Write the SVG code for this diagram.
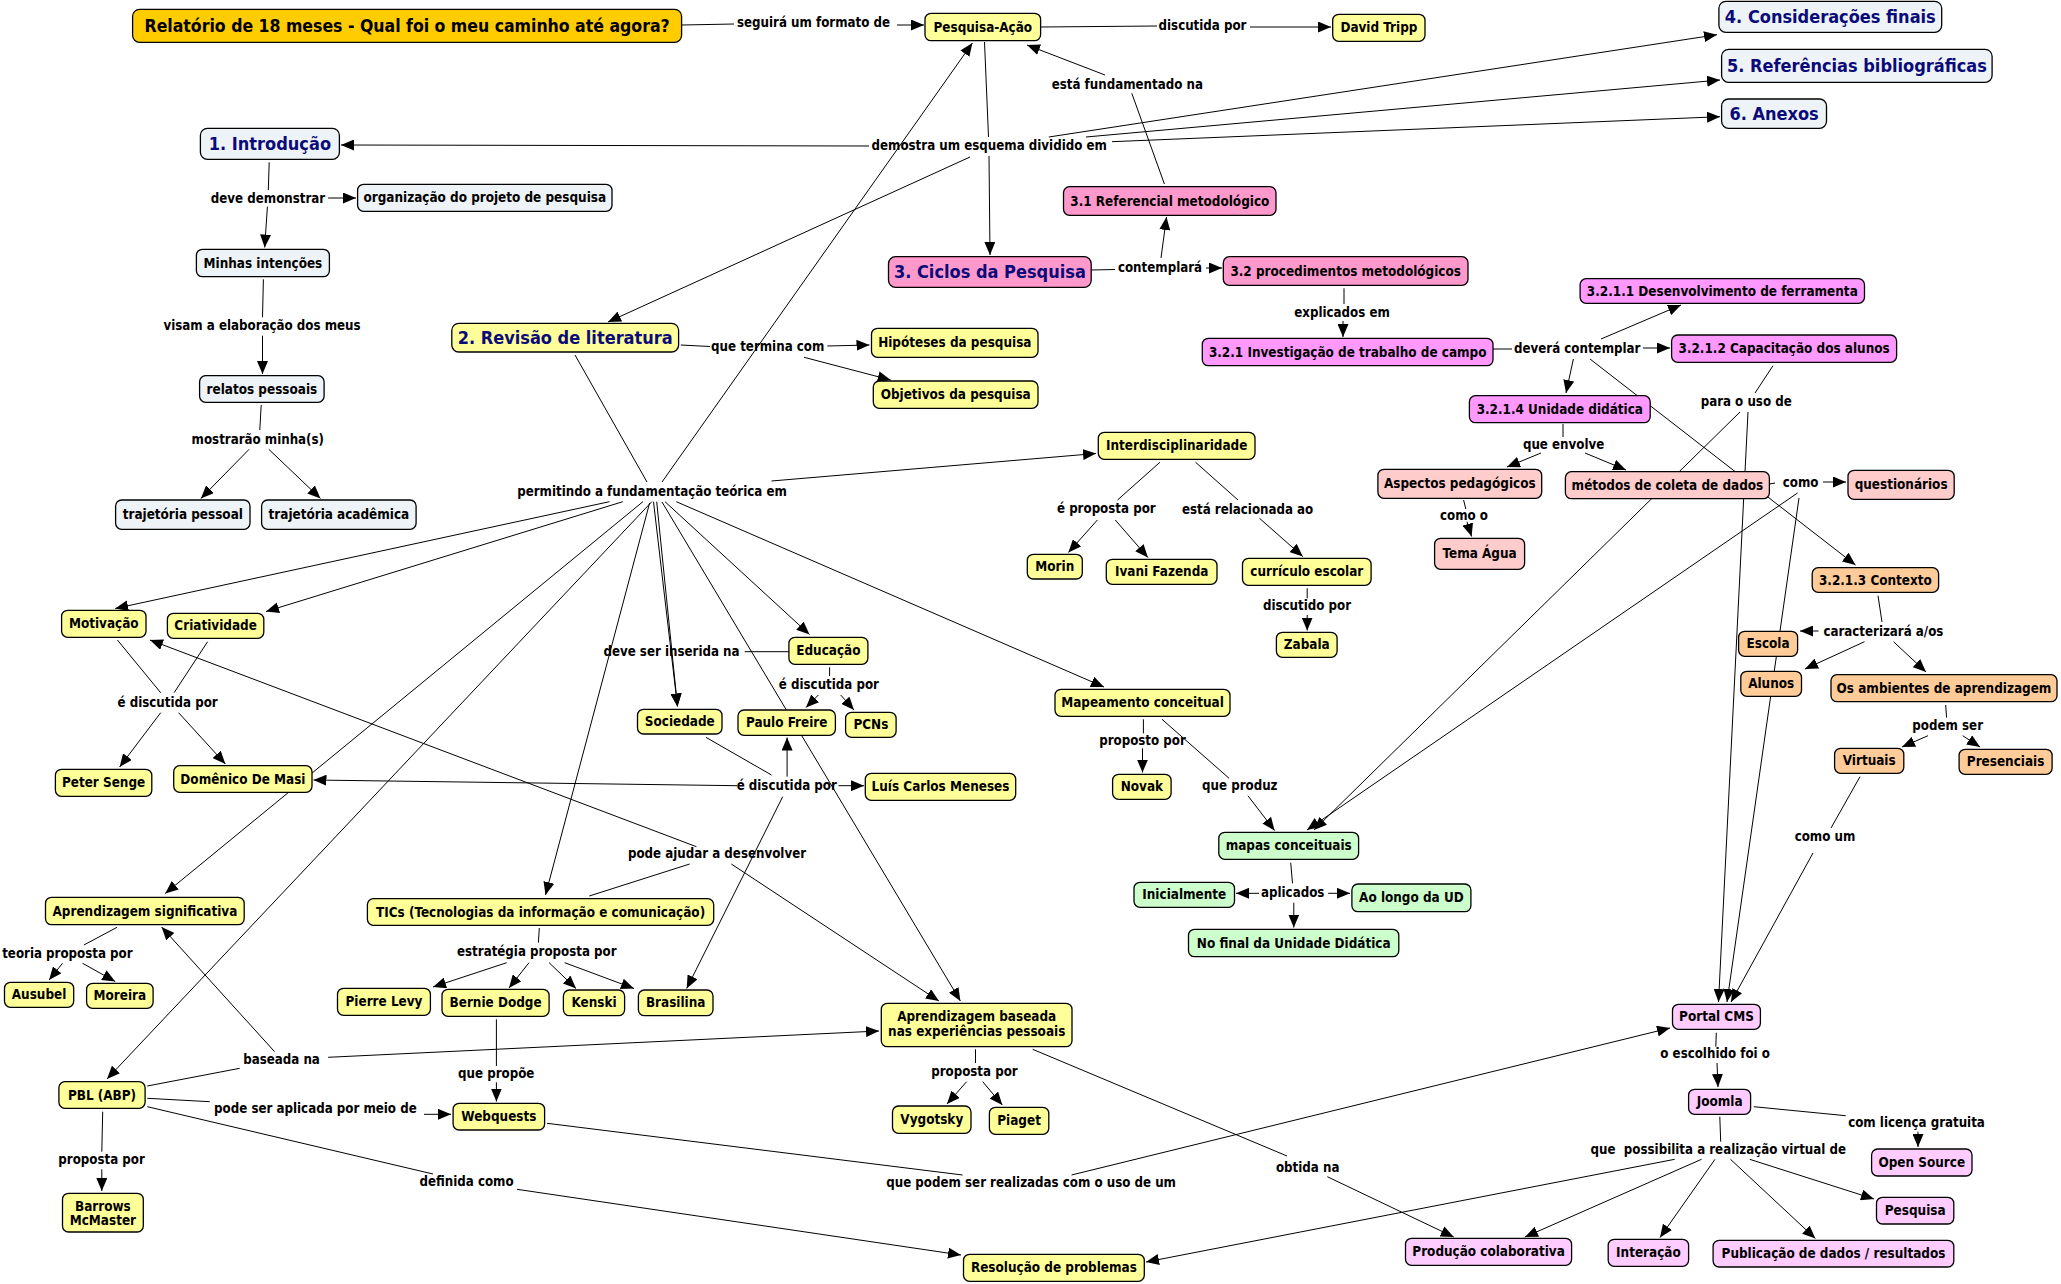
<svg xmlns="http://www.w3.org/2000/svg" width="2061" height="1284" viewBox="0 0 2061 1284">
<defs>
<marker id="a" markerWidth="13" markerHeight="11" refX="13" refY="5.5" orient="auto" markerUnits="userSpaceOnUse"><path d="M0,0 L13,5.5 L0,11 z" fill="#000"/></marker>
<style>
rect{stroke:#000;stroke-width:1.3}
.gold{fill:#FFCC00}.gr{fill:#EDF3F6}.y{fill:#FFFF99}.pk{fill:#FF99CC}.vi{fill:#FF99FF}.lp{fill:#FFCCCC}.or{fill:#FFCC99}.gn{fill:#CCFFCC}.lv{fill:#FFCCFF}
text{font-family:"DejaVu Sans Condensed","DejaVu Sans",sans-serif;font-weight:bold;font-size:13.4px;text-anchor:middle;fill:#000}
.h{font-size:18px;fill:#0A0A78}
.tt{font-size:17.5px}
.l{font-size:13.2px}
#c line{stroke:#000;stroke-width:1;fill:none}
#c .ar{marker-end:url(#a)}
</style>
</defs>
<rect x="0" y="0" width="2061" height="1284" fill="#fff" style="stroke:none"/>
<g id="c">
<line x1="682" y1="25" x2="734" y2="24"/>
<line class="ar" x1="897" y1="25" x2="924" y2="25"/>
<line x1="1041" y1="27" x2="1157" y2="26"/>
<line class="ar" x1="1250" y1="27" x2="1331" y2="27"/>
<line x1="984.5" y1="42" x2="988.5" y2="137"/>
<line class="ar" x1="989" y1="156" x2="990" y2="255"/>
<line class="ar" x1="869" y1="146" x2="341" y2="145"/>
<line class="ar" x1="970" y1="157" x2="608" y2="322"/>
<line class="ar" x1="1048.8" y1="137" x2="1717" y2="34.7"/>
<line class="ar" x1="1086" y1="137" x2="1720" y2="80"/>
<line class="ar" x1="1112" y1="141.7" x2="1720" y2="116.7"/>
<line x1="1164.4" y1="184" x2="1131.8" y2="93.3"/>
<line class="ar" x1="1105" y1="75" x2="1027" y2="45"/>
<line x1="1091" y1="270" x2="1115" y2="269.5"/>
<line class="ar" x1="1161" y1="258" x2="1166.5" y2="217"/>
<line class="ar" x1="1206" y1="268" x2="1222" y2="268"/>
<line x1="1344" y1="288.3" x2="1344" y2="304"/>
<line class="ar" x1="1343" y1="321" x2="1343" y2="337"/>
<line x1="1493" y1="349" x2="1512" y2="349"/>
<line class="ar" x1="1601" y1="339" x2="1681" y2="305"/>
<line class="ar" x1="1643" y1="348" x2="1670" y2="348"/>
<line class="ar" x1="1573.4" y1="359" x2="1566" y2="393"/>
<line class="ar" x1="1590" y1="359" x2="1855.5" y2="565"/>
<line x1="1773" y1="365.7" x2="1755" y2="393"/>
<line class="ar" x1="1748" y1="412" x2="1718.5" y2="1002"/>
<line class="ar" x1="1740" y1="412" x2="1314" y2="830"/>
<line x1="1563" y1="424" x2="1563" y2="437"/>
<line class="ar" x1="1541" y1="453" x2="1507" y2="467"/>
<line class="ar" x1="1585" y1="453" x2="1626" y2="470"/>
<line x1="1463.6" y1="500" x2="1465.8" y2="509"/>
<line class="ar" x1="1467" y1="521.7" x2="1471.6" y2="536.5"/>
<line x1="1769.4" y1="484" x2="1775" y2="483"/>
<line class="ar" x1="1823" y1="482" x2="1846" y2="482"/>
<line class="ar" x1="1797.5" y1="493" x2="1307" y2="830"/>
<line class="ar" x1="1799" y1="498" x2="1727" y2="1002"/>
<line x1="1878" y1="595.7" x2="1882" y2="622"/>
<line class="ar" x1="1818.5" y1="631" x2="1800" y2="631"/>
<line class="ar" x1="1864.5" y1="641.7" x2="1805" y2="669"/>
<line class="ar" x1="1893.5" y1="641.7" x2="1926" y2="672"/>
<line x1="1945.7" y1="705" x2="1946.6" y2="717.7"/>
<line class="ar" x1="1928" y1="735.7" x2="1902" y2="747"/>
<line class="ar" x1="1962.7" y1="735.7" x2="1980" y2="747"/>
<line x1="1860" y1="776.7" x2="1831" y2="828"/>
<line class="ar" x1="1813" y1="853" x2="1731" y2="1002"/>
<line x1="1716.3" y1="1032.7" x2="1715.8" y2="1046.7"/>
<line class="ar" x1="1717" y1="1063" x2="1718" y2="1087"/>
<line x1="1753.8" y1="1106.7" x2="1845.7" y2="1115.7"/>
<line class="ar" x1="1918" y1="1131.7" x2="1918" y2="1147"/>
<line x1="1719.8" y1="1116.7" x2="1720.7" y2="1141.7"/>
<line class="ar" x1="1674.7" y1="1159.3" x2="1146" y2="1262"/>
<line class="ar" x1="1701.5" y1="1159.3" x2="1525" y2="1237"/>
<line class="ar" x1="1715" y1="1159.3" x2="1660" y2="1237.5"/>
<line class="ar" x1="1730.5" y1="1159.3" x2="1815.4" y2="1238.5"/>
<line class="ar" x1="1749.7" y1="1159.3" x2="1874" y2="1199"/>
<line x1="547" y1="1123.3" x2="962.6" y2="1175"/>
<line class="ar" x1="1071.5" y1="1175" x2="1670" y2="1028"/>
<line x1="1032.7" y1="1049.3" x2="1287" y2="1156"/>
<line class="ar" x1="1327.3" y1="1176.7" x2="1453.75" y2="1237"/>
<line x1="975.5" y1="1049.3" x2="975.5" y2="1063"/>
<line class="ar" x1="966.6" y1="1081.7" x2="947" y2="1104"/>
<line class="ar" x1="982.7" y1="1081.7" x2="1002.3" y2="1105"/>
<line x1="147.3" y1="1106.7" x2="433" y2="1174"/>
<line class="ar" x1="517" y1="1189.3" x2="961" y2="1255"/>
<line x1="147.3" y1="1098.3" x2="209.8" y2="1101.7"/>
<line class="ar" x1="424" y1="1114.3" x2="451" y2="1114.3"/>
<line x1="102.7" y1="1111.7" x2="101.8" y2="1151.7"/>
<line class="ar" x1="101.8" y1="1169.3" x2="101.8" y2="1191"/>
<line x1="147.3" y1="1086" x2="239.7" y2="1068.3"/>
<line class="ar" x1="274.6" y1="1051.7" x2="161.6" y2="927"/>
<line class="ar" x1="328.1" y1="1057.3" x2="879" y2="1031"/>
<line x1="496.4" y1="1019.3" x2="496.4" y2="1066"/>
<line class="ar" x1="496.4" y1="1082.3" x2="496.4" y2="1101.5"/>
<line x1="539.3" y1="928" x2="538.4" y2="942.7"/>
<line class="ar" x1="506.7" y1="962.7" x2="433" y2="987"/>
<line class="ar" x1="529" y1="962.7" x2="509" y2="988"/>
<line class="ar" x1="549.1" y1="962.7" x2="576" y2="988.5"/>
<line class="ar" x1="564.7" y1="962.7" x2="634" y2="988.5"/>
<line x1="117" y1="927.3" x2="83.9" y2="945"/>
<line class="ar" x1="62.5" y1="963.3" x2="49.1" y2="980"/>
<line class="ar" x1="82.6" y1="963.3" x2="115.2" y2="981.5"/>
<line x1="575" y1="355" x2="647" y2="482"/>
<line class="ar" x1="662" y1="482" x2="972.4" y2="43"/>
<line class="ar" x1="771.5" y1="481" x2="1096" y2="453.5"/>
<line class="ar" x1="609.4" y1="501.7" x2="115.2" y2="608.5"/>
<line class="ar" x1="622.8" y1="501.7" x2="266" y2="611.5"/>
<line class="ar" x1="642.9" y1="501.7" x2="165.2" y2="893.5"/>
<line class="ar" x1="651.8" y1="501.7" x2="107" y2="1079"/>
<line class="ar" x1="649.6" y1="503" x2="545.5" y2="895"/>
<line class="ar" x1="656.7" y1="501.7" x2="677.5" y2="706.5"/>
<line class="ar" x1="653.5" y1="501.7" x2="677.5" y2="706.5"/>
<line class="ar" x1="665" y1="501.7" x2="809.5" y2="634.5"/>
<line class="ar" x1="676.3" y1="501.7" x2="1104" y2="687"/>
<line class="ar" x1="662" y1="502" x2="960.4" y2="1001"/>
<line x1="788.9" y1="651.7" x2="744.7" y2="651.7"/>
<line x1="829.6" y1="667.3" x2="829.6" y2="676"/>
<line class="ar" x1="818.4" y1="695" x2="806" y2="707.5"/>
<line class="ar" x1="840.7" y1="695" x2="854" y2="710"/>
<line x1="705.9" y1="737.3" x2="771.5" y2="775"/>
<line class="ar" x1="787.1" y1="776.7" x2="787.1" y2="737.5"/>
<line class="ar" x1="838.5" y1="785.7" x2="864" y2="785.7"/>
<line class="ar" x1="737" y1="785.7" x2="313.5" y2="780"/>
<line class="ar" x1="782.7" y1="796.7" x2="686.7" y2="988.5"/>
<line x1="117.4" y1="640" x2="160.7" y2="692.7"/>
<line x1="207.6" y1="641.7" x2="174.1" y2="692.7"/>
<line class="ar" x1="160.7" y1="712.7" x2="119.6" y2="767"/>
<line class="ar" x1="178.6" y1="712.7" x2="225.4" y2="764"/>
<line x1="589.3" y1="896" x2="689.7" y2="864"/>
<line class="ar" x1="696.4" y1="846.7" x2="150" y2="640"/>
<line class="ar" x1="731.3" y1="864" x2="938.9" y2="1001"/>
<line x1="1159.9" y1="462.3" x2="1117.5" y2="500"/>
<line class="ar" x1="1097.4" y1="520" x2="1068.4" y2="552.5"/>
<line class="ar" x1="1115.3" y1="520" x2="1147.9" y2="557.5"/>
<line x1="1195.6" y1="462.3" x2="1238" y2="500"/>
<line class="ar" x1="1259.5" y1="518.3" x2="1302.8" y2="556.5"/>
<line x1="1307.2" y1="588.3" x2="1307.2" y2="598.3"/>
<line class="ar" x1="1307.2" y1="615" x2="1307.2" y2="630.5"/>
<line x1="1143.4" y1="719.3" x2="1143.4" y2="733.3"/>
<line class="ar" x1="1142.5" y1="748.3" x2="1142.5" y2="772.5"/>
<line x1="1162" y1="719.3" x2="1229.1" y2="778.3"/>
<line class="ar" x1="1247.9" y1="795.7" x2="1274.6" y2="830.5"/>
<line x1="1290.7" y1="862.7" x2="1292.5" y2="883.3"/>
<line class="ar" x1="1259" y1="893.3" x2="1236" y2="893.3"/>
<line class="ar" x1="1328.2" y1="893.3" x2="1350" y2="893.3"/>
<line class="ar" x1="1293.8" y1="902.7" x2="1293.8" y2="927.5"/>
<line x1="680.8" y1="345" x2="710" y2="346.5"/>
<line class="ar" x1="827.3" y1="346" x2="869.5" y2="345"/>
<line class="ar" x1="804.1" y1="357.3" x2="890.7" y2="380"/>
<line x1="269.2" y1="162.3" x2="268.3" y2="190"/>
<line class="ar" x1="328.1" y1="198" x2="356" y2="198"/>
<line class="ar" x1="267.4" y1="206.7" x2="264.7" y2="247.5"/>
<line x1="263.4" y1="279.3" x2="262.5" y2="317.3"/>
<line class="ar" x1="262.5" y1="335.7" x2="262.5" y2="374"/>
<line x1="261.2" y1="405" x2="259.8" y2="430"/>
<line class="ar" x1="249.1" y1="449.3" x2="200.9" y2="498.5"/>
<line class="ar" x1="268.8" y1="449.3" x2="320.5" y2="498.5"/>
</g>
<g id="labels">
<text class="l" x="813.5" y="27.2">seguirá um formato de</text>
<text class="l" x="1202.5" y="29.5">discutida por</text>
<text class="l" x="1127.3" y="89.2">está fundamentado na</text>
<text class="l" x="989.2" y="150.2">demostra um esquema dividido em</text>
<text class="l" x="268" y="202.5">deve demonstrar</text>
<text class="l" x="262" y="329.5">visam a elaboração dos meus</text>
<text class="l" x="257.8" y="443.8">mostrarão minha(s)</text>
<text class="l" x="767.7" y="351.2">que termina com</text>
<text class="l" x="1160" y="272.2">contemplará</text>
<text class="l" x="1342" y="317.2">explicados em</text>
<text class="l" x="1577.2" y="352.8">deverá contemplar</text>
<text class="l" x="1746.2" y="405.5">para o uso de</text>
<text class="l" x="1563.6" y="448.5">que envolve</text>
<text class="l" x="1800.6" y="486.5">como</text>
<text class="l" x="1464" y="519.5">como o</text>
<text class="l" x="1883.4" y="636.2">caracterizará a/os</text>
<text class="l" x="1947.7" y="729.5">podem ser</text>
<text class="l" x="1825" y="841.2">como um</text>
<text class="l" x="652" y="495.5">permitindo a fundamentação teórica em</text>
<text class="l" x="1106.3" y="513.2">é proposta por</text>
<text class="l" x="1247.6" y="514.2">está relacionada ao</text>
<text class="l" x="1307" y="610.2">discutido por</text>
<text class="l" x="671.5" y="656.2">deve ser inserida na</text>
<text class="l" x="828.9" y="688.8">é discutida por</text>
<text class="l" x="167.6" y="707.2">é discutida por</text>
<text class="l" x="786.7" y="790.2">é discutida por</text>
<text class="l" x="1142.5" y="745.2">proposto por</text>
<text class="l" x="1239.8" y="789.5">que produz</text>
<text class="l" x="717" y="857.8">pode ajudar a desenvolver</text>
<text class="l" x="1292.7" y="896.5">aplicados</text>
<text class="l" x="67.4" y="957.5">teoria proposta por</text>
<text class="l" x="536.8" y="956.2">estratégia proposta por</text>
<text class="l" x="281.5" y="1063.5">baseada na</text>
<text class="l" x="496.2" y="1077.8">que propõe</text>
<text class="l" x="315.4" y="1112.8">pode ser aplicada por meio de</text>
<text class="l" x="101.6" y="1164.2">proposta por</text>
<text class="l" x="466.5" y="1185.5">definida como</text>
<text class="l" x="974.4" y="1075.8">proposta por</text>
<text class="l" x="1031.1" y="1187.2">que podem ser realizadas com o uso de um</text>
<text class="l" x="1307.7" y="1172.2">obtida na</text>
<text class="l" x="1715.1" y="1058.2">o escolhido foi o</text>
<text class="l" x="1916.5" y="1126.5">com licença gratuita</text>
<text class="l" x="1718.3" y="1153.8" style="white-space:pre">que  possibilita a realização virtual de</text>
</g>
<g id="n-title"><rect class="gold" x="132.6" y="9.3" width="549" height="33" rx="7"/><text class="tt" x="407.1" y="32">Relatório de 18 meses - Qual foi o meu caminho até agora?</text></g>
<g id="n-pesquisa-acao"><rect class="y" x="925" y="13.3" width="115.6" height="27.4" rx="6"/><text x="982.8" y="31.5">Pesquisa-Ação</text></g>
<g id="n-david"><rect class="y" x="1332.7" y="14.3" width="92.3" height="27" rx="6"/><text x="1378.9" y="32.3">David Tripp</text></g>
<g id="n-intro"><rect class="gr" x="200.4" y="128.3" width="139" height="31" rx="7"/><text class="h" x="269.9" y="150.1">1. Introdução</text></g>
<g id="n-organizacao"><rect class="gr" x="357.6" y="184.3" width="254.4" height="27" rx="6"/><text x="484.8" y="202.3">organização do projeto de pesquisa</text></g>
<g id="n-intencoes"><rect class="gr" x="196.4" y="249.3" width="133" height="27.4" rx="6"/><text x="262.9" y="267.5">Minhas intenções</text></g>
<g id="n-relatos"><rect class="gr" x="199.6" y="375.7" width="124.5" height="26.6" rx="6"/><text x="261.9" y="393.5">relatos pessoais</text></g>
<g id="n-traj-pessoal"><rect class="gr" x="115.6" y="500" width="134.4" height="29.3" rx="6"/><text x="182.8" y="519.2">trajetória pessoal</text></g>
<g id="n-traj-academica"><rect class="gr" x="261.6" y="500" width="154.5" height="29.3" rx="6"/><text x="338.9" y="519.2">trajetória acadêmica</text></g>
<g id="n-revisao"><rect class="y" x="451.8" y="323.3" width="226.8" height="28.7" rx="7"/><text class="h" x="565.2" y="344">2. Revisão de literatura</text></g>
<g id="n-hipoteses"><rect class="y" x="871.5" y="328.3" width="166.5" height="29" rx="6"/><text x="954.8" y="347.3">Hipóteses da pesquisa</text></g>
<g id="n-objetivos"><rect class="y" x="873.3" y="381" width="164.7" height="27.3" rx="6"/><text x="955.7" y="399.2">Objetivos da pesquisa</text></g>
<g id="n-3-1"><rect class="pk" x="1063.5" y="186.7" width="212.5" height="28.6" rx="6"/><text x="1169.8" y="205.5">3.1 Referencial metodológico</text></g>
<g id="n-ciclos"><rect class="pk" x="888.5" y="256.7" width="202.7" height="30.6" rx="7"/><text class="h" x="989.9" y="278.3">3. Ciclos da Pesquisa</text></g>
<g id="n-3-2"><rect class="pk" x="1223.3" y="256.7" width="244.7" height="28.6" rx="6"/><text x="1345.7" y="275.5">3.2 procedimentos metodológicos</text></g>
<g id="n-3-2-1"><rect class="vi" x="1202.3" y="338.3" width="290.7" height="27.4" rx="6"/><text x="1347.7" y="356.5">3.2.1 Investigação de trabalho de campo</text></g>
<g id="n-3-2-1-1"><rect class="vi" x="1580.1" y="278.7" width="284.4" height="24.6" rx="6"/><text x="1722.3" y="295.5">3.2.1.1 Desenvolvimento de ferramenta</text></g>
<g id="n-3-2-1-2"><rect class="vi" x="1671.6" y="335" width="225" height="27.3" rx="6"/><text x="1784.1" y="353.2">3.2.1.2 Capacitação dos alunos</text></g>
<g id="n-3-2-1-4"><rect class="vi" x="1469.4" y="395.7" width="180.8" height="27" rx="6"/><text x="1559.8" y="413.7">3.2.1.4 Unidade didática</text></g>
<g id="n-consideracoes"><rect class="gr" x="1718.9" y="1.3" width="222.8" height="31" rx="7"/><text class="h" x="1830.3" y="23.1">4. Considerações finais</text></g>
<g id="n-referencias"><rect class="gr" x="1721.6" y="49.3" width="270.5" height="33" rx="7"/><text class="h" x="1856.9" y="72.1">5. Referências bibliográficas</text></g>
<g id="n-anexos"><rect class="gr" x="1721.6" y="99" width="104.9" height="29.3" rx="7"/><text class="h" x="1774.1" y="120">6. Anexos</text></g>
<g id="n-aspectos"><rect class="lp" x="1377.9" y="469.3" width="163.8" height="29" rx="6"/><text x="1459.8" y="488.3">Aspectos pedagógicos</text></g>
<g id="n-metodos"><rect class="lp" x="1565.4" y="471.7" width="204" height="27" rx="6"/><text x="1667.4" y="489.7">métodos de coleta de dados</text></g>
<g id="n-questionarios"><rect class="lp" x="1848" y="470.3" width="106.2" height="29" rx="6"/><text x="1901.1" y="489.3">questionários</text></g>
<g id="n-tema-agua"><rect class="lp" x="1434.6" y="538.3" width="90" height="31" rx="6"/><text x="1479.6" y="558.3">Tema Água</text></g>
<g id="n-contexto"><rect class="or" x="1812.2" y="567.7" width="126.4" height="24.6" rx="6"/><text x="1875.4" y="584.5">3.2.1.3 Contexto</text></g>
<g id="n-escola"><rect class="or" x="1738.6" y="631.3" width="59" height="25" rx="6"/><text x="1768.1" y="648.3">Escola</text></g>
<g id="n-alunos"><rect class="or" x="1740.8" y="671.3" width="60.7" height="25" rx="6"/><text x="1771.2" y="688.3">Alunos</text></g>
<g id="n-ambientes"><rect class="or" x="1831" y="674.7" width="226" height="27" rx="6"/><text x="1944" y="692.7">Os ambientes de aprendizagem</text></g>
<g id="n-virtuais"><rect class="or" x="1834.6" y="748.3" width="69.2" height="25" rx="6"/><text x="1869.2" y="765.3">Virtuais</text></g>
<g id="n-presenciais"><rect class="or" x="1959.1" y="749.3" width="93" height="25" rx="6"/><text x="2005.6" y="766.3">Presenciais</text></g>
<g id="n-interdisc"><rect class="y" x="1098.3" y="432.3" width="156.7" height="27" rx="6"/><text x="1176.7" y="450.3">Interdisciplinaridade</text></g>
<g id="n-morin"><rect class="y" x="1027.3" y="554.3" width="55" height="24.7" rx="6"/><text x="1054.8" y="571.2">Morin</text></g>
<g id="n-ivani"><rect class="y" x="1106.3" y="559.3" width="110.7" height="25" rx="6"/><text x="1161.7" y="576.3">Ivani Fazenda</text></g>
<g id="n-curriculo"><rect class="y" x="1242.5" y="558.3" width="128.6" height="27" rx="6"/><text x="1306.8" y="576.3">currículo escolar</text></g>
<g id="n-zabala"><rect class="y" x="1276.4" y="632.3" width="60.7" height="25" rx="6"/><text x="1306.8" y="649.3">Zabala</text></g>
<g id="n-educacao"><rect class="y" x="788.9" y="637.3" width="79" height="27" rx="6"/><text x="828.4" y="655.3">Educação</text></g>
<g id="n-freire"><rect class="y" x="738" y="710" width="97.4" height="25.3" rx="6"/><text x="786.7" y="727.2">Paulo Freire</text></g>
<g id="n-pcns"><rect class="y" x="845.6" y="712.3" width="50.5" height="25" rx="6"/><text x="870.9" y="729.3">PCNs</text></g>
<g id="n-sociedade"><rect class="y" x="637.5" y="709.3" width="84.5" height="24.7" rx="6"/><text x="679.8" y="726.2">Sociedade</text></g>
<g id="n-mapeamento"><rect class="y" x="1055" y="689.3" width="175" height="27" rx="6"/><text x="1142.5" y="707.3">Mapeamento conceitual</text></g>
<g id="n-novak"><rect class="y" x="1112.6" y="774.3" width="58.5" height="25" rx="6"/><text x="1141.9" y="791.3">Novak</text></g>
<g id="n-meneses"><rect class="y" x="865.3" y="773.3" width="150.4" height="27" rx="6"/><text x="940.5" y="791.3">Luís Carlos Meneses</text></g>
<g id="n-mapas"><rect class="gn" x="1218.8" y="832.3" width="139.8" height="27" rx="6"/><text x="1288.7" y="850.3">mapas conceituais</text></g>
<g id="n-inicialmente"><rect class="gn" x="1134" y="882.3" width="100.5" height="25" rx="6"/><text x="1184.3" y="899.3">Inicialmente</text></g>
<g id="n-ao-longo"><rect class="gn" x="1351.9" y="884" width="119" height="27.7" rx="6"/><text x="1411.4" y="902.4">Ao longo da UD</text></g>
<g id="n-no-final"><rect class="gn" x="1188.5" y="929.3" width="210.3" height="27.4" rx="6"/><text x="1293.7" y="947.5">No final da Unidade Didática</text></g>
<g id="n-motivacao"><rect class="y" x="61.6" y="610.3" width="84.4" height="27" rx="6"/><text x="103.8" y="628.3">Motivação</text></g>
<g id="n-criatividade"><rect class="y" x="167.4" y="613.3" width="96.4" height="25" rx="6"/><text x="215.6" y="630.3">Criatividade</text></g>
<g id="n-senge"><rect class="y" x="55.4" y="769.3" width="96.4" height="27" rx="6"/><text x="103.6" y="787.3">Peter Senge</text></g>
<g id="n-masi"><rect class="y" x="173.7" y="765.7" width="138.3" height="26.6" rx="6"/><text x="242.9" y="783.5">Domênico De Masi</text></g>
<g id="n-apr-sig"><rect class="y" x="45.5" y="897.3" width="198.7" height="27.4" rx="6"/><text x="144.9" y="915.5">Aprendizagem significativa</text></g>
<g id="n-ausubel"><rect class="y" x="4.5" y="982.3" width="69.2" height="25" rx="6"/><text x="39.1" y="999.3">Ausubel</text></g>
<g id="n-moreira"><rect class="y" x="86.6" y="983.3" width="66.5" height="25" rx="6"/><text x="119.9" y="1000.3">Moreira</text></g>
<g id="n-tics"><rect class="y" x="367.4" y="898.7" width="346.3" height="26.6" rx="6"/><text x="540.6" y="916.5">TICs (Tecnologias da informação e comunicação)</text></g>
<g id="n-levy"><rect class="y" x="337.5" y="988.3" width="92.9" height="27" rx="6"/><text x="384" y="1006.3">Pierre Levy</text></g>
<g id="n-dodge"><rect class="y" x="442" y="989.3" width="107.1" height="27" rx="6"/><text x="495.6" y="1007.3">Bernie Dodge</text></g>
<g id="n-kenski"><rect class="y" x="563.4" y="990" width="61.2" height="25.7" rx="6"/><text x="594" y="1007.4">Kenski</text></g>
<g id="n-brasilina"><rect class="y" x="638.4" y="990" width="74.6" height="25.7" rx="6"/><text x="675.7" y="1007.4">Brasilina</text></g>
<g id="n-pbl"><rect class="y" x="58.9" y="1081.7" width="86.2" height="26.6" rx="6"/><text x="102" y="1099.5">PBL (ABP)</text></g>
<g id="n-webquests"><rect class="y" x="453.1" y="1103.3" width="91.5" height="26.7" rx="6"/><text x="498.9" y="1121.2">Webquests</text></g>
<g id="n-barrows"><rect class="y" x="62.5" y="1193.3" width="80.8" height="38.7" rx="6"/><text x="102.9" y="1210.5">Barrows</text><text x="102.9" y="1224.8">McMaster</text></g>
<g id="n-apr-exp"><rect class="y" x="881.3" y="1003.3" width="190.7" height="43.4" rx="6"/><text x="976.7" y="1021.2">Aprendizagem baseada</text><text x="976.7" y="1036.4">nas experiências pessoais</text></g>
<g id="n-vygotsky"><rect class="y" x="892.5" y="1106" width="78.5" height="27.3" rx="6"/><text x="931.8" y="1124.2">Vygotsky</text></g>
<g id="n-piaget"><rect class="y" x="989.4" y="1107.3" width="59.4" height="27" rx="6"/><text x="1019.1" y="1125.3">Piaget</text></g>
<g id="n-resolucao"><rect class="y" x="963.5" y="1254.3" width="180.8" height="27" rx="6"/><text x="1053.9" y="1272.3">Resolução de problemas</text></g>
<g id="n-portal"><rect class="lv" x="1672.5" y="1004.3" width="87.9" height="25" rx="6"/><text x="1716.5" y="1021.3">Portal CMS</text></g>
<g id="n-joomla"><rect class="lv" x="1688.6" y="1089.3" width="62" height="25" rx="6"/><text x="1719.6" y="1106.3">Joomla</text></g>
<g id="n-open-source"><rect class="lv" x="1871.6" y="1149" width="100.4" height="27" rx="6"/><text x="1921.8" y="1167">Open Source</text></g>
<g id="n-pesquisa"><rect class="lv" x="1876.5" y="1197.3" width="77.3" height="26.7" rx="6"/><text x="1915.2" y="1215.2">Pesquisa</text></g>
<g id="n-producao"><rect class="lv" x="1405.5" y="1238.3" width="166.1" height="27" rx="6"/><text x="1488.6" y="1256.3">Produção colaborativa</text></g>
<g id="n-interacao"><rect class="lv" x="1608.2" y="1239.3" width="80.4" height="27" rx="6"/><text x="1648.4" y="1257.3">Interação</text></g>
<g id="n-publicacao"><rect class="lv" x="1713.1" y="1240.3" width="240.7" height="26.7" rx="6"/><text x="1833.5" y="1258.2">Publicação de dados / resultados</text></g>
</svg>
